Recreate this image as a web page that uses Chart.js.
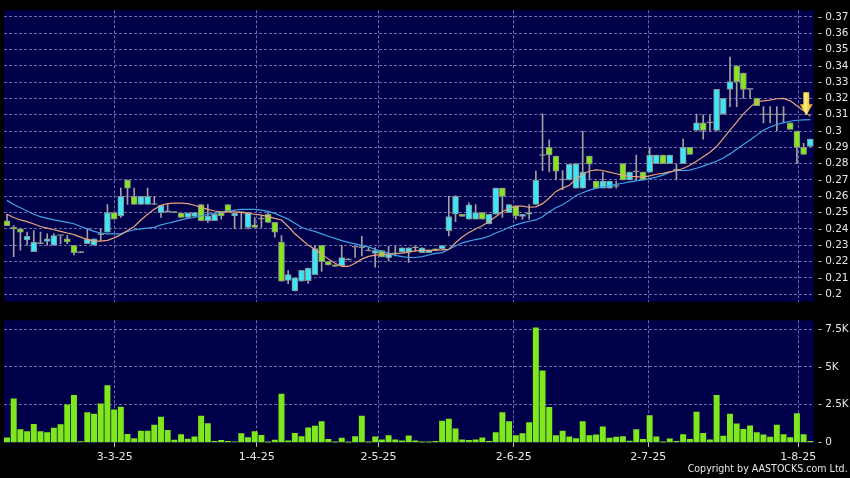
<!DOCTYPE html>
<html><head><meta charset="utf-8">
<script src="https://cdn.jsdelivr.net/npm/chart.js@4.4.1/dist/chart.umd.min.js"></script>
<style>
html,body{margin:0;padding:0;background:#000;}
#wrap{position:relative;width:850px;height:478px;overflow:hidden;background:#000;}
#c1{position:absolute;left:0;top:0;width:850px;height:312px;}
#c2{position:absolute;left:0;top:310px;width:850px;height:168px;}
#copy{position:absolute;right:2px;top:462px;color:#e6e6e6;font-family:"DejaVu Sans Condensed","Liberation Sans Narrow","DejaVu Sans",sans-serif;font-size:11px;font-stretch:condensed;white-space:nowrap;transform:scaleX(0.96);transform-origin:right center;}
</style></head>
<body><div id="wrap">
<canvas id="c1" width="850" height="312"></canvas>
<canvas id="c2" width="850" height="168"></canvas>
<div id="copy">Copyright by AASTOCKS.com Ltd.</div>
</div>
<script>
const dateLabels = ['3-3-25','1-4-25','2-5-25','2-6-25','2-7-25','1-8-25'];
const dateTickIndex = [16.1, 37.3, 55.5, 75.7, 95.8, 118.2];
const priceTicks = [0.2,0.21,0.22,0.23,0.24,0.25,0.26,0.27,0.28,0.29,0.3,0.31,0.32,0.33,0.34,0.35,0.36,0.37];
const priceTickLabels = ['0.2','0.21','0.22','0.23','0.24','0.25','0.26','0.27','0.28','0.29','0.3','0.31','0.32','0.33','0.34','0.35','0.36','0.37'];
const volumeTicks = [0,2500,5000,7500];
const volumeTickLabels = ['0','2.5K','5K','7.5K'];

const open = [
.245,.241,.240,.2333,.226,.231,.2323,.230,.236,.234,
.230,.2255,.231,.230,.2365,.238,.250,.248,.270,.260,
.255,.255,.255,.250,.2505,.250,.2497,.247,.2477,.255,
.245,.245,.250,.255,.248,.250,.241,.2425,.246,.249,
.244,.232,.2085,.202,.208,.2083,.212,.230,.220,.218,
.2175,.221,.2288,.2285,.2265,.225,.2268,.2224,.2248,.2258,
.2258,.2284,.2254,.2254,.2278,.2278,.239,.249,.249,.246,
.246,.250,.243,.249,.265,.250,.254,.2476,.249,.255,
.285,.290,.2847,.270,.270,.265,.265,.2847,.2694,.265,
.265,.266,.280,.270,.275,.2748,.2748,.280,.2853,.280,
.276,.280,.290,.3004,.305,.305,.3004,.3104,.3255,.340,
.3355,.3255,.320,.310,.310,.310,.310,.305,.300,.290,
.2905];
const high = [
.249,.242,.240,.238,.239,.238,.237,.237,.236,.236,
.230,.2255,.240,.234,.240,.255,.250,.265,.270,.265,
.260,.265,.260,.2545,.255,.250,.2497,.2497,.250,.255,
.255,.249,.250,.255,.250,.250,.250,.247,.248,.250,
.244,.236,.2145,.210,.2147,.216,.230,.230,.220,.218,
.230,.221,.2288,.2355,.2285,.2285,.2268,.2294,.2294,.2284,
.2284,.2294,.2284,.227,.2278,.2298,.260,.2605,.249,.256,
.255,.250,.249,.265,.265,.255,.254,.249,.255,.2755,
.3105,.2946,.2847,.2758,.2796,.280,.300,.2847,.2694,.2748,
.2694,.2694,.280,.2748,.2853,.2748,.2897,.2853,.2853,.2853,
.2797,.295,.290,.3104,.310,.310,.3255,.320,.3454,.340,
.3355,.3255,.320,.315,.315,.315,.315,.305,.300,.2925,
.295];
const low = [
.242,.223,.227,.230,.226,.231,.230,.230,.231,.231,
.224,.2255,.231,.230,.233,.238,.246,.247,.255,.255,
.255,.255,.255,.247,.2505,.250,.247,.247,.2477,.245,
.244,.245,.246,.251,.240,.240,.240,.241,.241,.244,
.235,.208,.2065,.202,.208,.2066,.212,.214,.218,.217,
.2175,.221,.2225,.2235,.2265,.2165,.2228,.2204,.2234,.2258,
.2194,.2264,.2254,.2254,.2268,.2278,.2357,.2445,.2476,.246,
.246,.246,.243,.249,.247,.250,.246,.246,.246,.255,
.2757,.275,.270,.264,.270,.265,.265,.270,.265,.265,
.265,.265,.270,.270,.270,.270,.2748,.280,.280,.280,
.270,.280,.2857,.3004,.295,.300,.300,.3104,.315,.315,
.320,.320,.3155,.305,.305,.300,.305,.301,.280,.2857,
.2905];
const close = [
.242,.240,.238,.2355,.232,.231,.234,.236,.236,.232,
.2255,.2255,.234,.234,.2365,.250,.246,.260,.265,.255,
.260,.260,.255,.2545,.2505,.250,.247,.2497,.250,.245,
.248,.249,.248,.251,.2495,.250,.250,.241,.246,.244,
.238,.208,.212,.210,.2147,.216,.228,.220,.218,.217,
.2224,.221,.2288,.2285,.2265,.2268,.2228,.2248,.2248,.2284,
.2284,.2284,.2284,.227,.2268,.2298,.2476,.260,.2476,.2548,
.250,.246,.249,.265,.260,.255,.248,.249,.250,.270,
.285,.2853,.2754,.270,.2796,.280,.2748,.2797,.265,.2694,
.2694,.266,.270,.2748,.275,.270,.2853,.2853,.280,.2853,
.276,.290,.2857,.305,.3004,.305,.3255,.320,.3303,.3303,
.3255,.3255,.3155,.310,.310,.310,.310,.301,.290,.2857,
.295];
const volume = [
300,2880,840,710,1200,710,645,945,1180,2490,
3110,60,1975,1870,2555,3760,2150,2340,540,260,
750,750,1140,1675,795,150,515,215,365,1740,
1245,65,130,65,40,580,320,710,470,10,
150,3200,107,600,385,965,1075,1375,195,20,
280,10,385,1740,10,365,170,450,170,107,
430,107,20,10,65,1415,1545,900,170,130,
170,300,65,645,1975,1375,450,580,1310,7575,
4740,2320,450,750,365,260,1375,450,495,1030,
280,345,385,85,840,195,1780,365,10,235,
65,515,195,2000,600,170,3110,410,1870,1225,
860,1095,645,495,345,1140,515,320,1910,515,
65];
const maShort = [
.249,.247,.2455,.2445,.243,.2415,.2405,.2395,.2385,.2375,
.2365,.235,.2335,.2325,.2325,.233,.2345,.2365,.239,.2415,
.2455,.249,.252,.2545,.2555,.2558,.2558,.2555,.2545,.2532,
.252,.251,.2505,.2505,.2505,.2502,.2495,.249,.2485,.2475,
.2465,.2455,.2415,.237,.2335,.230,.2275,.2245,.2215,.219,
.217,.217,.219,.2215,.2232,.224,.2243,.2245,.2248,.2252,
.2258,.2265,.2268,.2268,.227,.2272,.2275,.2315,.235,.2378,
.240,.242,.2445,.2475,.2505,.2525,.254,.254,.2533,.2535,
.2555,.259,.263,.265,.2668,.2705,.2735,.2755,.2762,.2758,
.2748,.2738,.2728,.2722,.272,.2718,.2725,.2735,.274,.275,
.2758,.277,.279,.2815,.2843,.287,.2905,.2955,.3005,.3055,
.3105,.3145,.318,.3185,.319,.3198,.320,.3185,.3155,.3125,
.309];
const maLong = [
.2575,.255,.253,.251,.249,.2475,.2465,.2455,.2448,.244,
.2432,.2415,.240,.2385,.2375,.237,.237,.237,.2385,.2395,
.240,.2405,.241,.2425,.2435,.2445,.2455,.2465,.247,.248,
.249,.2495,.2502,.2508,.2515,.252,.252,.252,.2515,.2508,
.2495,.2478,.246,.2435,.241,.2395,.2385,.237,.2355,.2342,
.2328,.2318,.2308,.2298,.229,.2275,.2262,.225,.2238,.223,
.2225,.2225,.223,.224,.225,.2255,.2275,.2295,.2315,.2325,
.2335,.2342,.2355,.2375,.239,.241,.2425,.2437,.2447,.2455,
.2475,.2505,.253,.2548,.2575,.2605,.2622,.2638,.265,.2658,
.2665,.2673,.268,.2688,.2695,.270,.2708,.2718,.273,.2748,
.2758,.2758,.276,.2772,.2785,.280,.2815,.2835,.286,.2888,
.2918,.2945,.2975,.3005,.3025,.304,.3052,.306,.3066,.3069,
.307];
const arrowIndex = 119.4;
const arrowPrice = 0.3097;

const NAVY = '#00004a';
const GRID = '#6c6cac';
const LABEL = '#e6e6e6';
const UP = '#3ce6f6';
const DOWN = '#86e61e';
const FLAT = '#a8a8a8';
const X_MIN = -0.45, X_MAX = 120.55;

const areaBg = {
  id: 'areaBg',
  beforeDraw(chart) {
    const {ctx, chartArea: a} = chart;
    ctx.save();
    ctx.fillStyle = NAVY;
    ctx.fillRect(a.left, a.top, a.right - a.left, a.bottom - a.top);
    ctx.restore();
  }
};
const arrowPlugin = {
  id: 'arrowMark',
  afterDatasetsDraw(chart) {
    const ctx = chart.ctx;
    const x = chart.scales.x.getPixelForValue(arrowIndex);
    const y = chart.scales.y.getPixelForValue(arrowPrice);
    ctx.save();
    const g = ctx.createLinearGradient(x - 7, 0, x + 7, 0);
    g.addColorStop(0, '#e09a00');
    g.addColorStop(0.45, '#fff27a');
    g.addColorStop(1, '#d88a00');
    ctx.fillStyle = g;
    ctx.beginPath();
    ctx.moveTo(x - 3, y - 23);
    ctx.lineTo(x + 3, y - 23);
    ctx.lineTo(x + 3, y - 11);
    ctx.lineTo(x + 6.5, y - 11);
    ctx.lineTo(x, y);
    ctx.lineTo(x - 6.5, y - 11);
    ctx.lineTo(x - 3, y - 11);
    ctx.closePath();
    ctx.fill();
    ctx.restore();
  }
};

const idx = open.map((_, i) => i);
const font = {family: '"DejaVu Sans", sans-serif', size: 10.5};

function xAxis(showLabels) {
  return {
    type: 'linear', min: X_MIN, max: X_MAX, offset: false,
    afterBuildTicks(s) { s.ticks = dateTickIndex.map(v => ({value: v})); },
    afterFit(s) { s.height = showLabels ? 35 : 0; },
    ticks: {
      display: showLabels, autoSkip: false, maxRotation: 0, padding: 4,
      color: LABEL, font: {family: '"DejaVu Sans", sans-serif', size: 11},
      callback: (v, i) => dateLabels[i]
    },
    grid: {offset: false, color: GRID, lineWidth: 1, drawTicks: showLabels, tickLength: 4, tickColor: '#bdbdbd', tickBorderDash: []},
    border: {display: false, dash: [3, 2]}
  };
}

new Chart(document.getElementById('c1'), {
  data: {
    datasets: [
      {type: 'line', data: idx.map(i => ({x: i, y: maShort[i]})), borderColor: '#e9a27c', borderWidth: 1.2, pointRadius: 0, order: 0},
      {type: 'line', data: idx.map(i => ({x: i, y: maLong[i]})), borderColor: '#3fa4e6', borderWidth: 1.2, pointRadius: 0, order: 0},
      {type: 'bar', data: idx.map(i => ({x: i, y: [open[i], close[i]]})), grouped: false, barThickness: 6, minBarLength: 1,
        backgroundColor: c => { const i = c.dataIndex; return close[i] > open[i] ? UP : (close[i] < open[i] ? DOWN : FLAT); },
        borderColor: '#8c8c8c', borderWidth: 1, borderSkipped: false, order: 1},
      {type: 'bar', data: idx.map(i => ({x: i, y: [low[i], high[i]]})), grouped: false, barThickness: 1, minBarLength: 1,
        backgroundColor: '#a0a0a0', borderWidth: 0, order: 2}
    ]
  },
  options: {
    responsive: false, animation: false, events: [],
    layout: {padding: {left: 4, top: 6, right: 0, bottom: 7}},
    plugins: {legend: {display: false}, tooltip: {enabled: false}},
    scales: {
      x: xAxis(false),
      y: {
        position: 'right', min: 0.1954, max: 0.374,
        afterBuildTicks(s) { s.ticks = priceTicks.map(v => ({value: v})); },
        afterFit(s) { s.width = 36; },
        ticks: {color: LABEL, font: font, padding: 4, callback: (v, i) => '- ' + priceTickLabels[i]},
        grid: {color: GRID, lineWidth: 1, drawTicks: false},
        border: {display: false, dash: [3, 2]}
      }
    }
  },
  plugins: [areaBg, arrowPlugin]
});

new Chart(document.getElementById('c2'), {
  type: 'bar',
  data: {
    datasets: [
      {data: idx.map(i => ({x: i, y: volume[i]})), barThickness: 5.3, backgroundColor: '#7ee81c', borderWidth: 0}
    ]
  },
  options: {
    responsive: false, animation: false, events: [],
    layout: {padding: {left: 4, top: 8, right: 0, bottom: 0}},
    plugins: {legend: {display: false}, tooltip: {enabled: false}},
    scales: {
      x: xAxis(true),
      y: {
        position: 'right', min: -40, max: 8080,
        afterBuildTicks(s) { s.ticks = volumeTicks.map(v => ({value: v})); },
        afterFit(s) { s.width = 36; },
        ticks: {color: LABEL, font: font, padding: 4, callback: (v, i) => '- ' + volumeTickLabels[i]},
        grid: {color: c => (c.tick && c.tick.value === 0) ? 'rgba(0,0,0,0)' : GRID, lineWidth: 1, drawTicks: false},
        border: {display: false, dash: [3, 2]}
      }
    }
  },
  plugins: [areaBg]
});
</script>
</body></html>
